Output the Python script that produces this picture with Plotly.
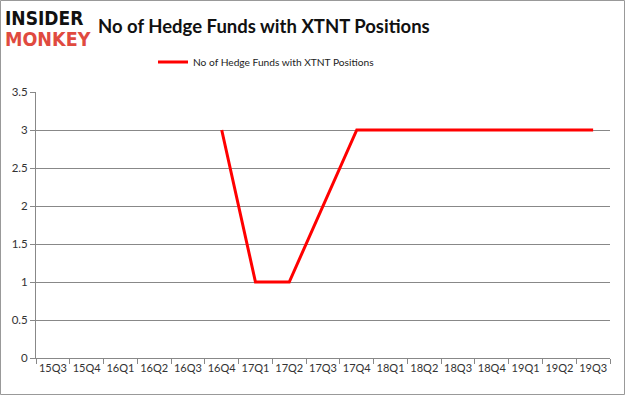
import plotly.graph_objects as go

quarters = ["15Q3", "15Q4", "16Q1", "16Q2", "16Q3", "16Q4", "17Q1", "17Q2", "17Q3",
            "17Q4", "18Q1", "18Q2", "18Q3", "18Q4", "19Q1", "19Q2", "19Q3"]
hedge_funds = [None, None, None, None, None, 3, 1, 1, 2, 3, 3, 3, 3, 3, 3, 3, 3]
series_name = "No of Hedge Funds with XTNT Positions"
title_text = "No of Hedge Funds with XTNT Positions"

W, H = 625, 395
L, R, T, B = 36, 15, 92, 37
pw, ph = W - L - R, H - T - B

def px(x):
    return (x - L) / pw

def py(y):
    return (H - B - y) / ph

fig = go.Figure()
fig.add_trace(go.Scatter(
    x=quarters, y=hedge_funds, mode="lines", name=series_name,
    line=dict(color="#ff0000", width=3), connectgaps=False,
))

fig.update_layout(
    width=W, height=H,
    margin=dict(l=L, r=R, t=T, b=B, autoexpand=False),
    paper_bgcolor="white", plot_bgcolor="white",
    showlegend=True,
    legend=dict(orientation="h", x=px(153), xanchor="left", y=py(62), yanchor="middle",
                font=dict(family="Lato, sans-serif", size=10.2, color="#222"),
                itemwidth=30, bgcolor="rgba(0,0,0,0)"),
    xaxis=dict(type="category", range=[-0.5, 16.5], showgrid=False,
               showline=True, linecolor="#888", linewidth=1,
               ticks="outside", tickson="boundaries", ticklen=5, tickcolor="#888",
               tickangle=0,
               tickfont=dict(family="Lato, sans-serif", size=11, color="#333")),
    yaxis=dict(range=[0, 3.5], dtick=0.5, showgrid=True, gridcolor="#888", gridwidth=1,
               showline=True, linecolor="#888", linewidth=1,
               ticks="outside", ticklen=5, tickcolor="#888", zeroline=False,
               tickformat="~g",
               tickfont=dict(family="Lato, sans-serif", size=11.5, color="#333")),
    shapes=[dict(type="rect", xref="paper", yref="paper",
                 x0=px(0.5), x1=px(624.5), y0=py(394.5), y1=py(0.5),
                 line=dict(color="#999", width=1), fillcolor="rgba(0,0,0,0)", layer="below")],
    annotations=[
        dict(text="<b>" + title_text + "</b>", xref="paper", yref="paper",
             x=px(96), y=py(26), xanchor="left", yanchor="middle", showarrow=False,
             font=dict(family="Lato, sans-serif", size=18.5, color="#111")),
        dict(text="<b>INSIDER</b>", xref="paper", yref="paper",
             x=px(3), y=py(18), xanchor="left", yanchor="middle", showarrow=False,
             font=dict(family="Liberation Sans Narrow, DejaVu Sans Condensed, sans-serif",
                       size=19, color="#111")),
        dict(text="<b>MONKEY</b>", xref="paper", yref="paper",
             x=px(3), y=py(40), xanchor="left", yanchor="middle", showarrow=False,
             font=dict(family="Liberation Sans Narrow, DejaVu Sans Condensed, sans-serif",
                       size=19.5, color="#e04a3f")),
    ],
)

fig.write_html("out.html", post_script="document.body.style.margin='0';",
               config={"displayModeBar": False})
